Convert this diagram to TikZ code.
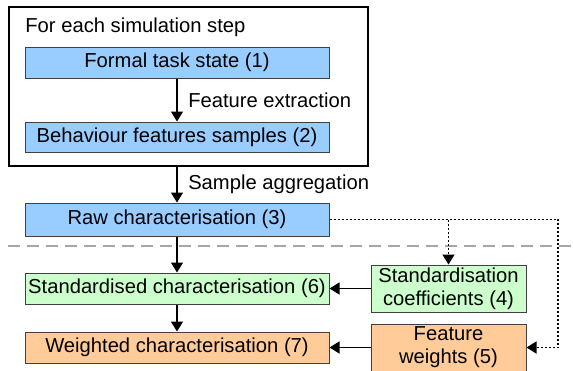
\documentclass[tikz,border=0pt]{standalone}
\usepackage{fontspec}
\setmainfont{Liberation Sans}
\usetikzlibrary{arrows.meta}

\definecolor{rawblue}{HTML}{99CCFF}
\definecolor{stdgreen}{HTML}{CCFFCC}
\definecolor{wgtorange}{HTML}{FFCC99}

\begin{document}
\begin{tikzpicture}[
	x=0.5pt, y=-0.5pt, >={Triangle[width=6pt, length=5pt]},
	font=\fontsize{10.1}{11.5}\selectfont,
	box/.style={draw=black!75, line width=0.5pt, minimum width=152pt, inner sep=0pt, align=center},
	flow/.style={->, line width=0.6pt},
	dotline/.style={->, line width=0.7pt, dash pattern=on 1pt off 1pt},
	sepline/.style={gray!70, line width=0.6pt, dash pattern=on 6pt off 3.5pt}
]
	\useasboundingbox (0, 0) rectangle (573, 370);

	% per-step loop
	\node[draw, line width=0.7pt, minimum width=179.5pt, minimum height=79.5pt, inner sep=0pt]
		(loop) at (188.5, 86.5) {};
	\node[anchor=west, inner sep=0pt] (looplabel) at (25, 27) {For each simulation step};

	\node[box, fill=rawblue, minimum height=15.5pt] (task) at (177, 62.5) {Formal task state (1)};
	\node[box, fill=rawblue, minimum height=15pt] (samples) at (177, 137) {Behaviour features samples (2)};

	\draw[flow] (task) -- node[right=2pt] {Feature extraction} (samples);

	\node[box, fill=rawblue, minimum height=16.5pt] (raw) at (177, 219.5) {Raw characterisation (3)};

	\draw[flow] (raw.north |- loop.south) -- node[right=2pt] {Sample aggregation} (raw.north);

	% offline part
	\draw[sepline] (8, 246) -- (573, 246);

	\node[box, fill=stdgreen, minimum height=15.5pt] (std) at (177, 288.5) {Standardised characterisation (6)};
	\node[box, fill=wgtorange, minimum height=15.5pt] (wgt) at (177, 347.5) {Weighted characterisation (7)};
	\node[box, fill=stdgreen, minimum width=77.5pt, minimum height=23.5pt] (coef) at (448.5, 288.5)
		{Standardisation\\coefficients (4)};
	\node[box, fill=wgtorange, minimum width=77.5pt, minimum height=23.5pt] (weights) at (448.5, 347.5)
		{Feature\\weights (5)};

	\draw[flow] (raw) -- (std);
	\draw[flow] (std) -- (wgt);
	\draw[flow] (coef) -- (std);
	\draw[flow] (weights) -- (wgt);

	\coordinate (turn) at (558, 219.5);
	\draw[dotline] (raw.east) -- (turn) |- (weights.east);
	\draw[dotline] (raw.east -| coef.north) -- (coef.north);

\end{tikzpicture}
\end{document}
